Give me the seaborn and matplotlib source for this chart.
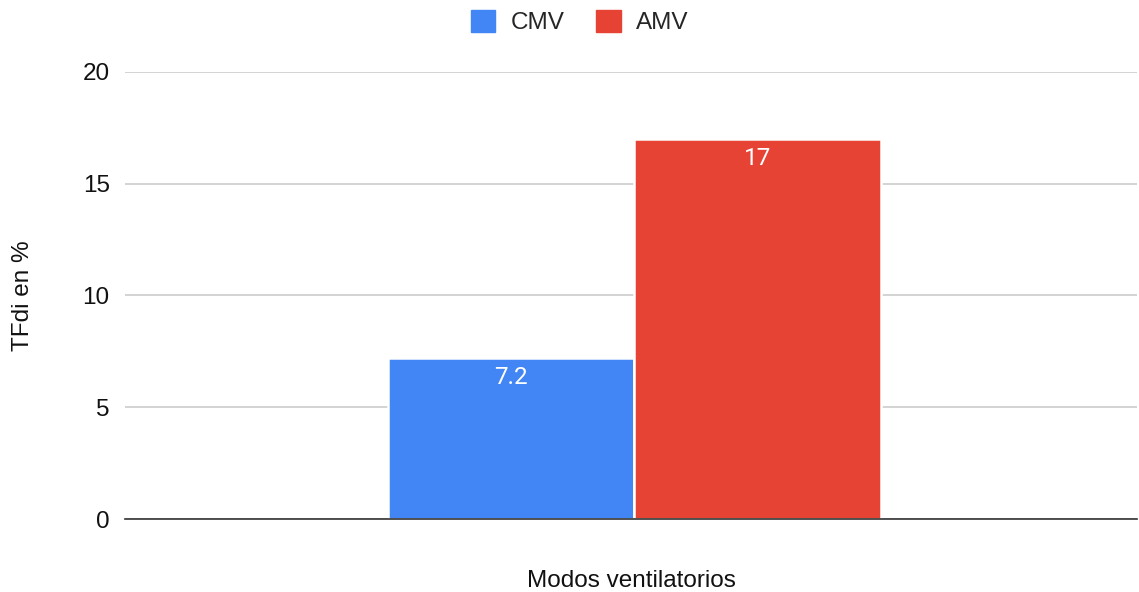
import matplotlib

matplotlib.use("Agg")
import matplotlib.pyplot as plt
import pandas as pd
import seaborn as sns

# data
modes = ["CMV", "AMV"]
tfdi = [7.2, 17]
bar_labels = ["7.2", "17"]
category = ["Modos ventilatorios"]
colors = ["#4285F4", "#E64335"]
y_ticks = [0, 5, 10, 15, 20]

df = pd.DataFrame({"cat": category * len(modes), "mode": modes, "tfdi": tfdi})

sns.set_theme(style="white")
plt.rcParams["font.family"] = ["Liberation Sans", "DejaVu Sans"]
FS = 17.5

fig = plt.figure(figsize=(11.39, 5.92), dpi=100)
ax = fig.add_axes([0.1097, 0.1233, 0.8885, 0.7551])

sns.barplot(data=df, x="cat", y="tfdi", hue="mode", palette=colors,
            width=0.81, saturation=1, edgecolor="white", linewidth=1.8,
            legend=False, ax=ax)

for p, lab in zip(ax.patches, bar_labels):
    ax.annotate(lab, (p.get_x() + p.get_width() / 2, p.get_height()),
                xytext=(0, -6), textcoords="offset points",
                ha="center", va="top", color="white", fontsize=FS,
                family=["Roboto", "DejaVu Sans"])

ax.set_xlim(-0.8374, 0.8258)
ax.set_ylim(0, 20)
ax.set_yticks(y_ticks)
ax.set_yticklabels([str(t) for t in y_ticks], fontsize=FS, color="#111111")
ax.set_xticks([])
ax.tick_params(axis="y", length=0, pad=11)
ax.yaxis.grid(True, color="#cccccc", linewidth=1.2)
ax.set_axisbelow(True)
for s in ["top", "right", "left"]:
    ax.spines[s].set_visible(False)
ax.spines["bottom"].set_color("#333333")
ax.spines["bottom"].set_linewidth(1.2)

ax.set_xlabel("Modos ventilatorios", fontsize=FS, color="#111111", labelpad=37)
ax.set_ylabel("TFdi en %", fontsize=FS, color="#111111", labelpad=35)

handles = [plt.Rectangle((0, 0), 1, 1, color=c) for c in colors]
fig.legend(handles, modes, loc="center", bbox_to_anchor=(0.509, 0.963), ncol=2,
           frameon=False, fontsize=FS, handlelength=1.0, handleheight=1.0,
           columnspacing=1.3, handletextpad=0.65)

plt.savefig("out.png", dpi=100)
